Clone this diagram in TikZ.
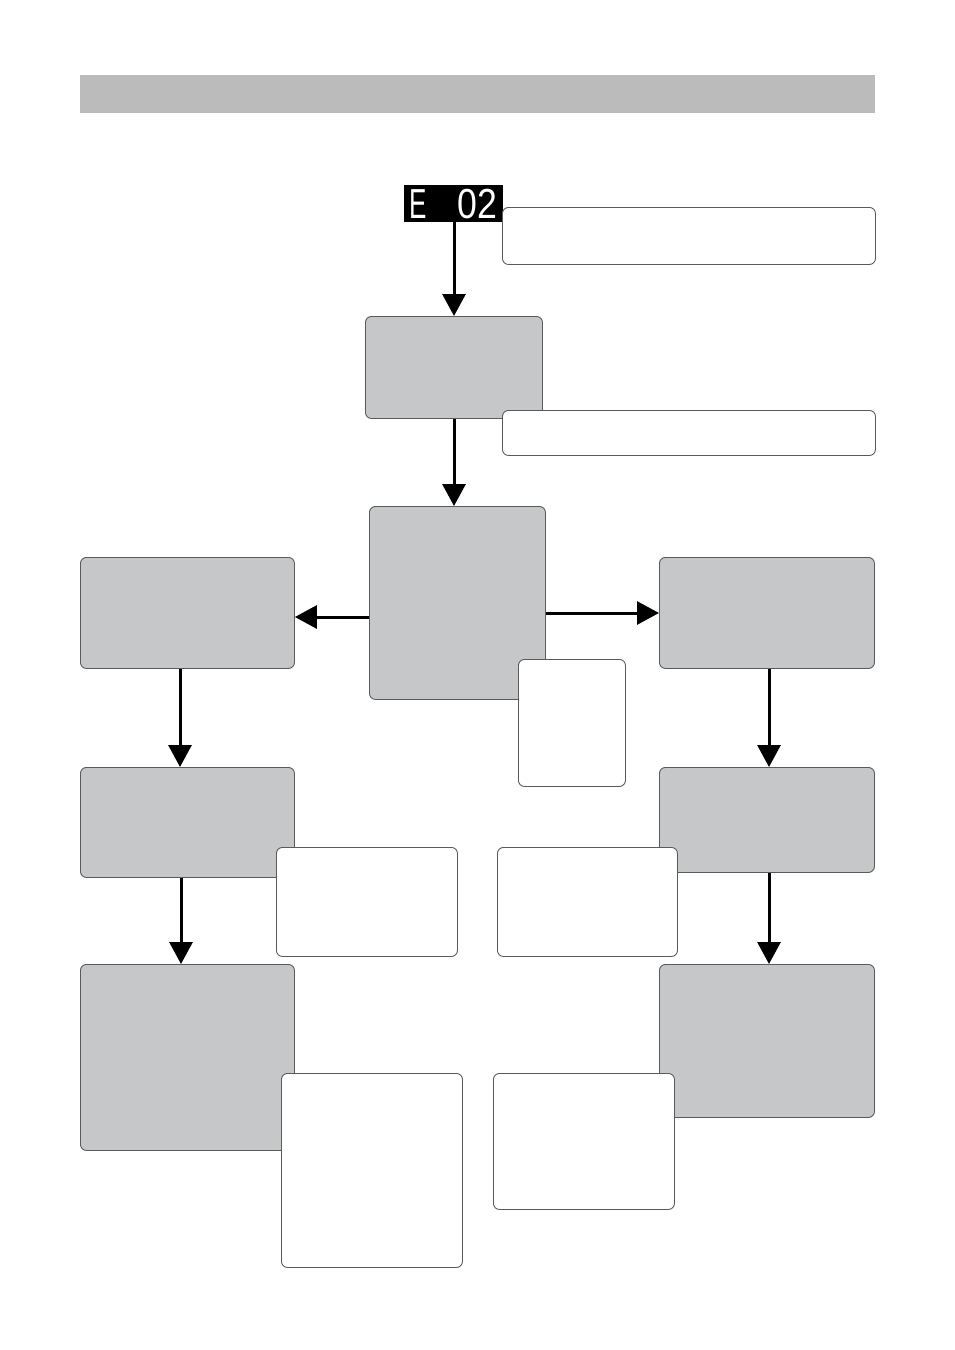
\documentclass[tikz,border=0pt]{standalone}
\usepackage{fontspec}
\setmainfont{Liberation Sans}
\usetikzlibrary{arrows.meta}
\definecolor{boxgray}{HTML}{C6C7C9}
\definecolor{bargray}{HTML}{BBBBBB}
\definecolor{edge}{HTML}{5A5A5A}
\tikzset{
  graybox/.style={draw=edge, line width=0.9pt, fill=boxgray, rounded corners=6pt, anchor=north west, inner sep=0pt},
  notebox/.style={draw=edge, line width=0.9pt, fill=white, rounded corners=6pt, anchor=north west, inner sep=0pt},
  arr/.style={line width=3pt, -{Triangle[length=22pt,width=23pt]}},
}
\begin{document}
\begin{tikzpicture}[x=1pt,y=-1pt]
\useasboundingbox (0,0) rectangle (954,1350);
% header bar
\node[fill=bargray, anchor=north west, inner sep=0pt, minimum width=795pt, minimum height=38pt] (bar) at (80,75) {};
% display
\node[fill=black, anchor=north west, inner sep=0pt, minimum width=99pt, minimum height=37pt] (e02) at (404,185) {};
\node[text=white, inner sep=0pt, font=\fontsize{42}{42}\selectfont] (e02txt) at (453.5,204) {\scalebox{0.62}[1]{E}\hspace{30pt}\scalebox{0.85}[1]{02}};
% note boxes and steps
\node[notebox, minimum width=373pt, minimum height=57pt] (n1) at (502,207) {};
\node[graybox, minimum width=177pt, minimum height=102pt] (A) at (365,316) {};
\node[notebox, minimum width=373pt, minimum height=45pt] (n2) at (502,410) {};
\node[graybox, minimum width=176pt, minimum height=193pt] (B) at (369,506) {};
\node[graybox, minimum width=214pt, minimum height=111pt] (L1) at (80,557) {};
\node[graybox, minimum width=215pt, minimum height=111pt] (R1) at (659,557) {};
\node[notebox, minimum width=107pt, minimum height=127pt] (n3) at (518,659) {};
\node[graybox, minimum width=214pt, minimum height=110pt] (L2) at (80,767) {};
\node[graybox, minimum width=215pt, minimum height=105pt] (R2) at (659,767) {};
\node[notebox, minimum width=181pt, minimum height=109pt] (n4) at (276,847) {};
\node[notebox, minimum width=180pt, minimum height=109pt] (n5) at (497,847) {};
\node[graybox, minimum width=214pt, minimum height=186pt] (L3) at (80,964) {};
\node[graybox, minimum width=215pt, minimum height=153pt] (R3) at (659,964) {};
\node[notebox, minimum width=181pt, minimum height=194pt] (n6) at (281,1073) {};
\node[notebox, minimum width=181pt, minimum height=136pt] (n7) at (493,1073) {};
% arrows
\draw[arr] (e02.south -| 454,0) -- (A.north -| 454,0);
\draw[arr] (A.south -| 454,0) -- (B.north -| 454,0);
\draw[arr] (B.west |- 0,617) -- (L1.east |- 0,617);
\draw[arr] (B.east |- 0,613) -- (R1.west |- 0,613);
\draw[arr] (L1.south -| 180,0) -- (L2.north -| 180,0);
\draw[arr] (L2.south -| 181,0) -- (L3.north -| 181,0);
\draw[arr] (R1.south -| 769,0) -- (R2.north -| 769,0);
\draw[arr] (R2.south -| 769,0) -- (R3.north -| 769,0);
\end{tikzpicture}
\end{document}
